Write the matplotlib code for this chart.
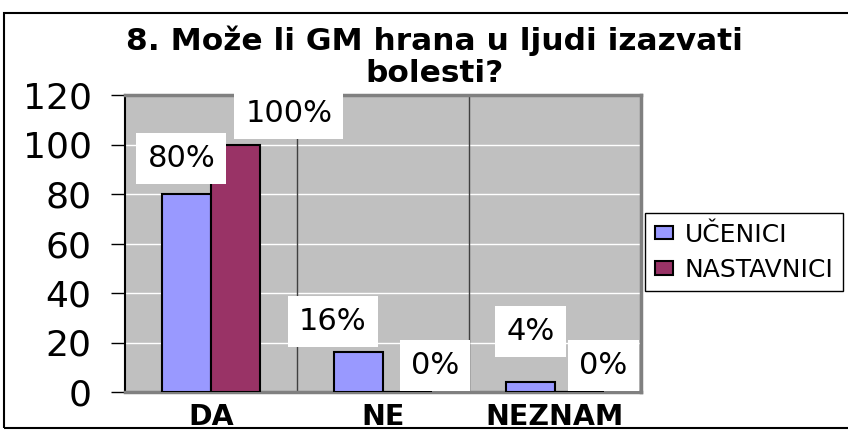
import matplotlib.pyplot as plt
import numpy as np
from matplotlib.patches import Patch, Rectangle

# data
categories = ['DA', 'NE', 'NEZNAM']
ucenici = [80, 16, 4]
nastavnici = [100, 0, 0]
series_names = ['UČENICI', 'NASTAVNICI']
title = '8. Može li GM hrana u ljudi izazvati\nbolesti?'

# label offsets (dx in category units, dy in value units) - labels were moved by hand
uc_offsets = [(-0.03, 14.5), (-0.15, 12.3), (0.0, 20.6)]
na_offsets = [(0.31, 12.7), (0.16, 10.9), (0.14, 10.9)]

plt.rcParams['font.family'] = ['DejaVu Sans']

fig = plt.figure(figsize=(8.48, 4.30), dpi=100)
ax = fig.add_axes([125 / 848, 38 / 430, 516 / 848, 297 / 430])
ax.set_facecolor('#C0C0C0')

x = np.arange(len(categories))
w = 0.285
b1 = ax.bar(x - w / 2, ucenici, w, color='#9999FF', edgecolor='black', linewidth=1.5, zorder=3)
b2 = ax.bar(x + w / 2, nastavnici, w, color='#993366', edgecolor='black', linewidth=1.5, zorder=3)

ax.set_xlim(-0.5, 2.5)
ax.set_ylim(0, 120)
ax.set_yticks(range(0, 121, 20))
ax.tick_params(axis='y', length=10, width=1, pad=14, labelsize=26, direction='out')
ax.tick_params(axis='x', length=0, pad=8)
ax.set_xticks(x)
ax.set_xticklabels(categories, fontsize=20.5, fontweight='bold')

# white horizontal grid, dark vertical separators between categories
for v in range(20, 120, 20):
    ax.axhline(v, color='white', lw=1, zorder=1)
for sep in x[:-1] + 0.5:
    ax.axvline(sep, color='#404040', lw=1, zorder=1)

for side in ['top', 'right', 'bottom']:
    ax.spines[side].set_color('#808080')
    ax.spines[side].set_linewidth(2.5)
ax.spines['left'].set_color('black')
ax.spines['left'].set_linewidth(1.5)

# data labels in white boxes
for bars, vals, offs in [(b1, ucenici, uc_offsets), (b2, nastavnici, na_offsets)]:
    for bar, v, (dx, dy) in zip(bars, vals, offs):
        cx = bar.get_x() + bar.get_width() / 2
        ax.text(cx + dx, v + dy, f'{v}%', ha='center', va='center', fontsize=22,
                bbox=dict(facecolor='white', edgecolor='none', pad=8), zorder=4)

fig.text(434 / 848, 1 - 57 / 430, title, ha='center', va='center', fontsize=22.5,
         fontweight='bold', linespacing=1.12)

handles = [Patch(facecolor='#9999FF', edgecolor='black', linewidth=1.5),
           Patch(facecolor='#993366', edgecolor='black', linewidth=1.5)]
leg = fig.legend(handles, series_names, loc='upper left',
                 bbox_to_anchor=(645 / 848, 1 - 213 / 430), borderaxespad=0,
                 fontsize=18, frameon=True, fancybox=False, edgecolor='black',
                 framealpha=1, handlelength=0.72, handleheight=0.45,
                 handletextpad=0.48, labelspacing=0.45, borderpad=0.38)
leg.get_frame().set_linewidth(1)

# outer chart frame
fig.patches.append(Rectangle((4 / 848, 2 / 430), 1.0, 415 / 430, transform=fig.transFigure,
                             fill=False, edgecolor='black', linewidth=1.5))

fig.savefig('out.png', dpi=100)
